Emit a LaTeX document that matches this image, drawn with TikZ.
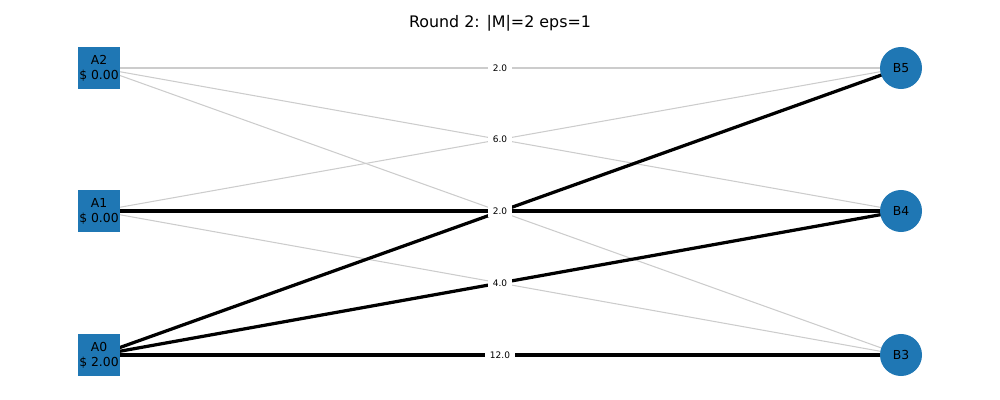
\documentclass[tikz,border=0pt]{standalone}
\usepackage{fontspec}
\setmainfont{DejaVu Sans}
\usetikzlibrary{backgrounds}
\definecolor{tabblue}{HTML}{1F77B4}
\definecolor{edgegray}{HTML}{CCCCCC}
\begin{document}
\begin{tikzpicture}[x=0.025cm,y=-0.025cm,
  anode/.style={rectangle,fill=tabblue,minimum size=1.05cm,inner sep=0pt,align=center,font=\fontsize{8.8}{10.8}\selectfont},
  bnode/.style={circle,fill=tabblue,minimum size=1.05cm,inner sep=0pt,font=\fontsize{8.8}{10.8}\selectfont},
  thin edge/.style={draw=edgegray,line width=0.75pt},
  thick edge/.style={draw=black,line width=2.3pt},
  elabel/.style={fill=white,inner xsep=3.4pt,inner ysep=1.5pt,font=\fontsize{6.4}{7}\selectfont}]
\useasboundingbox (0,0) rectangle (1000,400);
\node[font=\fontsize{11.3}{13}\selectfont] (title) at (500,23) {Round 2: |M|=2 eps=1};
\node[anode] (A2) at (99,68) {A2\\\$ 0.00};
\node[anode] (A1) at (99,211) {A1\\\$ 0.00};
\node[anode] (A0) at (99,355) {A0\\\$ 2.00};
\node[bnode] (B5) at (901,68) {B5};
\node[bnode] (B4) at (901,211) {B4};
\node[bnode] (B3) at (901,355) {B3};
\begin{scope}[on background layer]
\draw[thin edge] (A2.center) -- (B5.center);
\draw[thin edge] (A2.center) -- (B4.center);
\draw[thin edge] (A2.center) -- (B3.center);
\draw[thin edge] (A1.center) -- (B5.center);
\draw[thin edge] (A1.center) -- (B3.center);
\draw[thick edge] (A1.center) -- (B4.center);
\draw[thick edge] (A0.center) -- (B5.center);
\draw[thick edge] (A0.center) -- (B4.center);
\draw[thick edge] (A0.center) -- (B3.center);
\end{scope}
\path (A2.center) -- (B5.center) node[elabel,midway] (l25) {2.0};
\path (A2.center) -- (B4.center) node[elabel,midway] (l24) {6.0};
\path (A1.center) -- (B5.center) node[elabel,midway] (l15) {6.0};
\path (A2.center) -- (B3.center) node[elabel,midway] (l23) {2.0};
\path (A1.center) -- (B4.center) node[elabel,midway] (l14) {2.0};
\path (A0.center) -- (B5.center) node[elabel,midway] (l05) {2.0};
\path (A1.center) -- (B3.center) node[elabel,midway] (l13) {4.0};
\path (A0.center) -- (B4.center) node[elabel,midway] (l04) {4.0};
\path (A0.center) -- (B3.center) node[elabel,midway] (l03) {12.0};
\end{tikzpicture}
\end{document}
